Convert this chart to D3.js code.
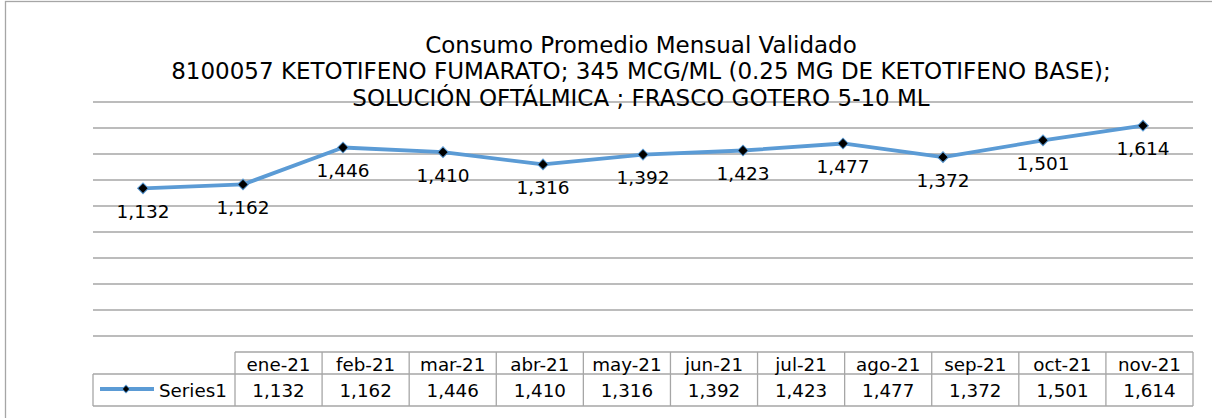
<!DOCTYPE html>
<html><head><meta charset="utf-8">
<script src="https://cdn.jsdelivr.net/npm/d3@7"></script>
<style>body{margin:0;background:#fff}svg{display:block}</style>
</head><body>
<script>
const categories = ["ene-21","feb-21","mar-21","abr-21","may-21","jun-21","jul-21","ago-21","sep-21","oct-21","nov-21"];
const series1 = [1132,1162,1446,1410,1316,1392,1423,1477,1372,1501,1614];
const seriesName = "Series1";
const yTicks = [0,200,400,600,800,1000,1200,1400,1600,1800];
const titleLines = ["Consumo Promedio Mensual Validado",
  "8100057 KETOTIFENO FUMARATO; 345 MCG/ML (0.25 MG DE KETOTIFENO BASE);",
  "SOLUCIÓN OFTÁLMICA ; FRASCO GOTERO 5-10 ML"];

const W = 1212, H = 418, FONT = "'DejaVu Sans', Verdana, sans-serif";
const LINE = "#5B9BD5", GRID = "#A6A6A6";
const fmt = d3.format(",");
const svg = d3.select("body").append("svg").attr("width", W).attr("height", H)
  .style("font-family", FONT);

// outer chart border
svg.append("rect").attr("x", 5.5).attr("y", 1.5).attr("width", W + 20).attr("height", H + 20)
  .attr("fill", "none").attr("stroke", GRID).attr("stroke-width", 1.3);

const plot = {left: 93, right: 1193, top: 101.5, bottom: 335.5};
const x = d3.scalePoint().domain(categories).range([plot.left, plot.right]).padding(0.5);
const y = d3.scaleLinear().domain([0, 1800]).range([plot.bottom, plot.top]);

// gridlines
const gAxis = svg.append("g").attr("transform", `translate(${plot.left},0)`)
  .call(d3.axisLeft(y).tickValues(yTicks).tickSize(-(plot.right - plot.left)).tickFormat(""));
gAxis.select(".domain").remove();
gAxis.selectAll(".tick line").attr("stroke", GRID).attr("stroke-width", 1.3);

// title
const title = svg.append("text").attr("text-anchor", "middle").attr("font-size", 23).attr("fill", "#000");
titleLines.forEach((t, i) => title.append("tspan").attr("x", 641).attr("y", 52.7 + i * 26.7).text(t));

// line
svg.append("path").datum(series1)
  .attr("fill", "none").attr("stroke", LINE).attr("stroke-width", 3.8).attr("stroke-linejoin", "round")
  .attr("d", d3.line().x((d, i) => x(categories[i])).y(d => y(d)));

const diamond = d3.symbol().type(d3.symbolSquare).size(58);
svg.selectAll(".mk").data(series1).join("path")
  .attr("d", diamond)
  .attr("transform", (d, i) => `translate(${x(categories[i])},${y(d)}) rotate(45)`)
  .attr("fill", "#000").attr("stroke", LINE).attr("stroke-width", 1);

// data labels (below)
svg.selectAll(".lbl").data(series1).join("text")
  .attr("x", (d, i) => x(categories[i])).attr("y", d => y(d) + 29.5)
  .attr("text-anchor", "middle").attr("font-size", 18.5).attr("fill", "#000")
  .text(d => fmt(d));

// data table
const tbl = {left: 93, colStart: 235, right: 1193, hTop: 352, hBot: 374, rBot: 406};
const tx = d3.scaleBand().domain(categories).range([tbl.colStart, tbl.right]);
const T = svg.append("g");
const st = s => s.attr("stroke", GRID).attr("stroke-width", 1.3);
st(T.append("line").attr("x1", tbl.colStart).attr("x2", tbl.right).attr("y1", tbl.hTop).attr("y2", tbl.hTop));
st(T.append("line").attr("x1", tbl.left).attr("x2", tbl.right).attr("y1", tbl.hBot).attr("y2", tbl.hBot));
st(T.append("line").attr("x1", tbl.left).attr("x2", tbl.right).attr("y1", tbl.rBot).attr("y2", tbl.rBot));
st(T.append("line").attr("x1", tbl.left).attr("x2", tbl.left).attr("y1", tbl.hBot).attr("y2", tbl.rBot));
categories.forEach(c => {
  st(T.append("line").attr("x1", tx(c)).attr("x2", tx(c)).attr("y1", tbl.hTop).attr("y2", tbl.rBot));
});
st(T.append("line").attr("x1", tbl.right).attr("x2", tbl.right).attr("y1", tbl.hTop).attr("y2", tbl.rBot));

T.selectAll(".hd").data(categories).join("text")
  .attr("x", c => tx(c) + tx.bandwidth() / 2).attr("y", 370.5)
  .attr("text-anchor", "middle").attr("font-size", 18.3).text(c => c);
T.selectAll(".vl").data(series1).join("text")
  .attr("x", (d, i) => tx(categories[i]) + tx.bandwidth() / 2).attr("y", 396.5)
  .attr("text-anchor", "middle").attr("font-size", 18.3).text(d => fmt(d));

// legend key
T.append("line").attr("x1", 100).attr("x2", 154).attr("y1", 389).attr("y2", 389)
  .attr("stroke", LINE).attr("stroke-width", 3.8);
T.append("path").attr("d", d3.symbol().type(d3.symbolSquare).size(30))
  .attr("transform", "translate(126,389) rotate(45)").attr("fill", "#000").attr("stroke", LINE).attr("stroke-width", 1);
T.append("text").attr("x", 159).attr("y", 396.5).attr("font-size", 18.3).text(seriesName);
</script>
</body></html>
